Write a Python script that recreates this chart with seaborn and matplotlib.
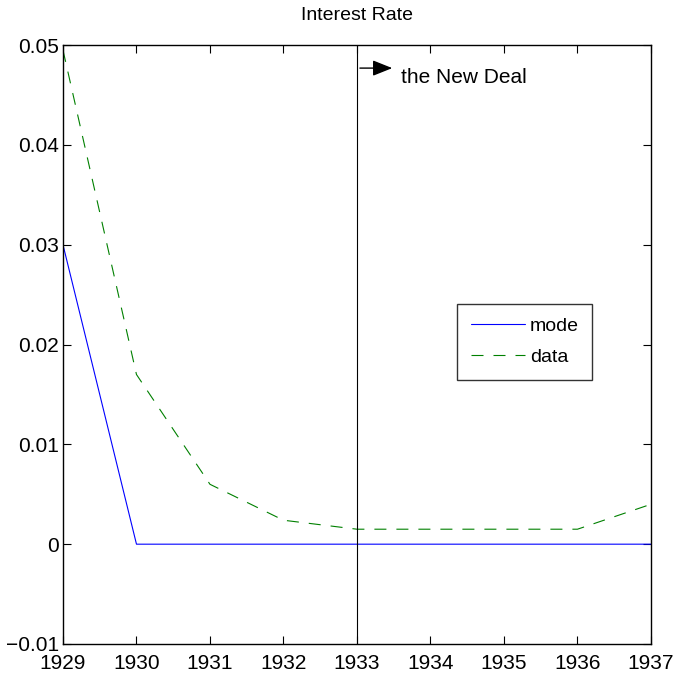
import numpy as np
import pandas as pd
import seaborn as sns
import matplotlib.pyplot as plt
from matplotlib.ticker import FuncFormatter

# values
years = [1929, 1930, 1931, 1932, 1933, 1934, 1935, 1936, 1937]
mode_rate = [0.03, 0.0, 0.0, 0.0, 0.0, 0.0, 0.0, 0.0, 0.0]
data_rate = [0.0495, 0.017, 0.006, 0.0024, 0.0015, 0.0015, 0.0015, 0.0015, 0.004]
y_ticks = [-0.01, 0, 0.01, 0.02, 0.03, 0.04, 0.05]
new_deal_year = 1933

sns.set_theme(style='white')
plt.rcParams['font.family'] = ['Liberation Sans', 'DejaVu Sans']
plt.rcParams['text.color'] = 'black'
plt.rcParams['xtick.color'] = 'black'
plt.rcParams['ytick.color'] = 'black'
plt.rcParams['xtick.direction'] = 'in'
plt.rcParams['ytick.direction'] = 'in'

df = pd.DataFrame({'year': years, 'mode': mode_rate, 'data': data_rate})

fig, ax = plt.subplots(figsize=(6.75, 6.84), dpi=100)
plt.subplots_adjust(left=0.0933, right=0.9644, top=0.934, bottom=0.0585)

sns.lineplot(data=df, x='year', y='mode', color='#0000ff', linewidth=0.8, label='mode', ax=ax)
sns.lineplot(data=df, x='year', y='data', color='#008000', linewidth=0.8, label='data', ax=ax)
ax.lines[1].set_dashes((10.8, 9))

ax.axvline(new_deal_year, color='black', linewidth=0.8)
ax.annotate('', xy=(1933.48, 0.0477), xytext=(1933.04, 0.0477),
            arrowprops=dict(arrowstyle='-|>,head_length=1.0,head_width=0.4',
                            color='black', lw=1, mutation_scale=12, shrinkA=0, shrinkB=0))
ax.text(1933.6, 0.0468, 'the New Deal', fontsize=15, va='center', ha='left')

ax.set_xlim(years[0], years[-1])
ax.set_ylim(-0.01, 0.05)
ax.set_xticks(years)
ax.set_yticks(y_ticks)
ax.yaxis.set_major_formatter(FuncFormatter(lambda v, p: ('%g' % round(v, 4)).replace('-', '\u2212')))
ax.tick_params(axis='both', which='major', labelsize=15, length=6, width=0.8, color='black',
               labelcolor='black', top=True, right=True, bottom=True, left=True, pad=3)
ax.tick_params(axis='x', pad=7)
for s in ax.spines.values():
    s.set_color('black')
    s.set_linewidth(1)

ax.set_xlabel('')
ax.set_ylabel('')
ax.set_title('Interest Rate', fontsize=14, pad=18, color='black')

leg = ax.legend(loc='upper left', bbox_to_anchor=(0.67, 0.568), fontsize=14,
                frameon=True, fancybox=False, edgecolor='black', handlelength=2.8,
                handletextpad=0.25, borderpad=0.7, labelspacing=0.7, borderaxespad=0)
leg.get_frame().set_linewidth(1)
for t in leg.get_texts():
    t.set_color('black')

plt.savefig('out.png', dpi=100)
